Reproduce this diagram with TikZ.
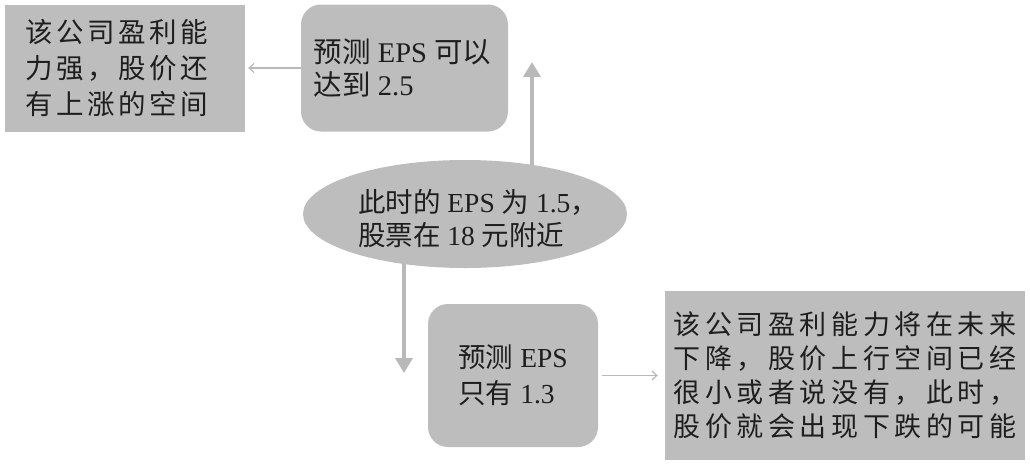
\documentclass[tikz,border=0pt]{standalone}
\usepackage{fontspec}
\setmainfont{Liberation Serif}
\newfontfamily\cjk{Noto Sans CJK SC}
\newfontfamily\cjks{Noto Sans CJK SC}[LetterSpace=13]
\newfontfamily\cjkd{Noto Sans CJK SC}[LetterSpace=17]
\usetikzlibrary{shapes.geometric,arrows.meta,backgrounds}
\definecolor{boxgray}{RGB}{189,189,189}
\definecolor{arrowgray}{RGB}{185,185,185}
\definecolor{txt}{RGB}{30,30,30}
\tikzset{
  x=1pt, y=-1pt,
  rectbox/.style={fill=boxgray, inner sep=0pt, text=txt, align=left,
    font=\fontsize{27}{35}\selectfont},
  roundbox/.style={rectbox, rounded corners=20pt},
  ovalbox/.style={ellipse, fill=boxgray, inner sep=0pt},
  ovaltext/.style={inner sep=0pt, text=txt, align=left,
    font=\fontsize{27.5}{33}\selectfont},
  bigarrow/.style={draw=arrowgray, line width=4pt, -{Triangle[width=17pt,length=15pt]}},
  smallarrow/.style={draw=arrowgray, line width=1.2pt, -{Straight Barb[length=5pt,width=9pt]}}
}
\begin{document}
\begin{tikzpicture}
\useasboundingbox (0,0) rectangle (1030,464);
\node[rectbox, minimum width=240pt, minimum height=127pt,
  font=\fontsize{27.5}{36}\selectfont] (A) at (125,68)
  {\cjks 该公司盈利能\hspace*{16pt}\\\cjks 力强，股价还\hspace*{16pt}\\\cjks 有上涨的空间\hspace*{16pt}};
\node[roundbox, minimum width=207pt, minimum height=127pt,
  font=\fontsize{28.5}{33}\selectfont] (B) at (404.5,68)
  {{\cjk 预测} EPS {\cjk 可以}\hspace*{4pt}\\{\cjk 达到} 2.5};
\node[ovalbox, minimum width=324pt, minimum height=108pt] (E) at (465,214) {};
\node[ovaltext] (Et) at ([xshift=13pt,yshift=-5pt]E.center)
  {{\cjk 此时的} EPS {\cjk 为} 1.5{\cjk ，}\\{\cjk 股票在} 18 {\cjk 元附近}};
\node[roundbox, minimum width=170pt, minimum height=143pt,
  font=\fontsize{27.5}{36}\selectfont] (C) at (513,375.5)
  {{\cjk 预测} EPS\\{\cjk 只有} 1.3};
\node[rectbox, minimum width=360pt, minimum height=169pt,
  font=\fontsize{27}{34}\selectfont] (D) at (845,375.5)
  {\cjkd 该公司盈利能力将在未来\\\cjkd 下降，股价上行空间已经\\\cjkd 很小或者说没有，此时，\\\cjkd 股价就会出现下跌的可能};
\coordinate (upend) at (532,62);
\coordinate (downend) at (404,373);
\begin{scope}[on background layer]
  \draw[bigarrow] (upend |- E.center) -- (upend);
  \draw[bigarrow] (downend |- E.center) -- (downend);
\end{scope}
\draw[smallarrow, shorten >=3pt] (B.west) -- (A.east);
\draw[smallarrow, shorten <=4pt, shorten >=7pt] (C.east) -- (D.west);
\end{tikzpicture}
\end{document}
